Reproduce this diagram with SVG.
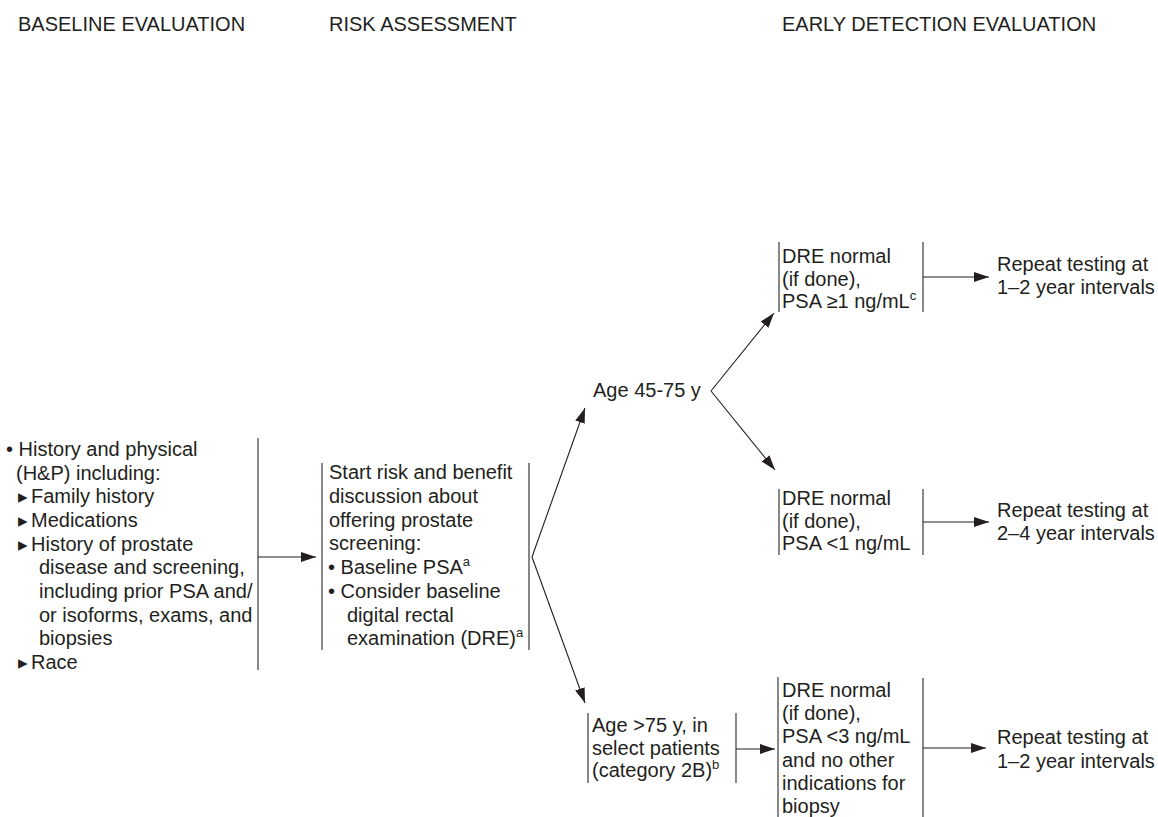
<svg xmlns="http://www.w3.org/2000/svg" width="1158" height="817" viewBox="0 0 1158 817">
<defs>
<style>
text{font-family:"Liberation Sans",Arial,sans-serif;font-size:20px;fill:#231f20}
.sup{font-size:13px}
.tri{font-family:"DejaVu Sans",sans-serif;font-size:19px}
.br{stroke:#555;stroke-width:1.4;fill:none}
.ar{stroke:#231f20;stroke-width:1.1;fill:none;marker-end:url(#ah)}
</style>
<marker id="ah" viewBox="0 0 15 10" refX="15" refY="5" markerWidth="15" markerHeight="10" markerUnits="userSpaceOnUse" orient="auto">
<path d="M0,0 L15,5 L0,10 Z" fill="#231f20"/>
</marker>
</defs>
<rect width="1158" height="817" fill="#fff"/>
<g id="headers">
<text x="18" y="31">BASELINE EVALUATION</text>
<text x="329" y="31">RISK ASSESSMENT</text>
<text x="782" y="31">EARLY DETECTION EVALUATION</text>
</g>
<g id="node-baseline">
<text x="6" y="456">• History and physical</text>
<text x="16" y="480">(H&amp;P) including:</text>
<text x="18" y="503"><tspan class="tri">▸</tspan><tspan x="31">Family history</tspan></text>
<text x="18" y="527"><tspan class="tri">▸</tspan><tspan x="31">Medications</tspan></text>
<text x="18" y="551"><tspan class="tri">▸</tspan><tspan x="31">History of prostate</tspan></text>
<text x="39" y="574">disease and screening,</text>
<text x="39" y="598">including prior PSA and/</text>
<text x="39" y="622">or isoforms, exams, and</text>
<text x="39" y="645">biopsies</text>
<text x="18" y="669"><tspan class="tri">▸</tspan><tspan x="31">Race</tspan></text>
<line class="br" x1="258" y1="438" x2="258" y2="670"/>
</g>
<g id="node-risk">
<line class="br" x1="322" y1="463" x2="322" y2="650"/>
<line class="br" x1="529" y1="463" x2="529" y2="650"/>
<text x="329" y="479">Start risk and benefit</text>
<text x="329" y="503">discussion about</text>
<text x="329" y="527">offering prostate</text>
<text x="329" y="550">screening:</text>
<text x="328" y="574">• Baseline PSA<tspan class="sup" dy="-8">a</tspan></text>
<text x="328" y="598">• Consider baseline</text>
<text x="347" y="622">digital rectal</text>
<text x="347" y="645">examination (DRE)<tspan class="sup" dy="-8">a</tspan></text>
</g>
<g id="node-age45">
<text x="593" y="397">Age 45-75 y</text>
</g>
<g id="node-age75">
<line class="br" x1="588" y1="713" x2="588" y2="783"/>
<line class="br" x1="736" y1="713" x2="736" y2="783"/>
<text x="592" y="732">Age &gt;75 y, in</text>
<text x="592" y="755">select patients</text>
<text x="592" y="777">(category 2B)<tspan class="sup" dy="-8">b</tspan></text>
</g>
<g id="node-dre1">
<line class="br" x1="779" y1="242" x2="779" y2="312"/>
<line class="br" x1="923" y1="242" x2="923" y2="312"/>
<text x="782" y="263">DRE normal</text>
<text x="782" y="286">(if done),</text>
<text x="782" y="308">PSA ≥1 ng/mL<tspan class="sup" dy="-8">c</tspan></text>
</g>
<g id="node-dre2">
<line class="br" x1="779" y1="489" x2="779" y2="555"/>
<line class="br" x1="923" y1="489" x2="923" y2="555"/>
<text x="782" y="505">DRE normal</text>
<text x="782" y="528">(if done),</text>
<text x="782" y="550">PSA &lt;1 ng/mL</text>
</g>
<g id="node-dre3">
<line class="br" x1="778" y1="677" x2="778" y2="817"/>
<line class="br" x1="923" y1="678" x2="923" y2="817"/>
<text x="782" y="697">DRE normal</text>
<text x="782" y="720">(if done),</text>
<text x="782" y="743">PSA &lt;3 ng/mL</text>
<text x="782" y="767">and no other</text>
<text x="782" y="790">indications for</text>
<text x="782" y="813">biopsy</text>
</g>
<g id="node-repeat1">
<text x="997" y="271">Repeat testing at</text>
<text x="997" y="294">1–2 year intervals</text>
</g>
<g id="node-repeat2">
<text x="997" y="517">Repeat testing at</text>
<text x="997" y="540">2–4 year intervals</text>
</g>
<g id="node-repeat3">
<text x="997" y="744">Repeat testing at</text>
<text x="997" y="768">1–2 year intervals</text>
</g>
<g id="connectors">
<line class="ar" x1="258" y1="557" x2="316" y2="557"/>
<line class="ar" x1="532" y1="557" x2="585" y2="408"/>
<line class="ar" x1="532" y1="557" x2="585" y2="703"/>
<line class="ar" x1="711" y1="391" x2="774" y2="313"/>
<line class="ar" x1="711" y1="391" x2="775" y2="470"/>
<line class="ar" x1="923" y1="277" x2="989" y2="277"/>
<line class="ar" x1="923" y1="522" x2="989" y2="522"/>
<line class="ar" x1="736" y1="749" x2="775" y2="749"/>
<line class="ar" x1="923" y1="748" x2="986" y2="748"/>
</g>
</svg>
